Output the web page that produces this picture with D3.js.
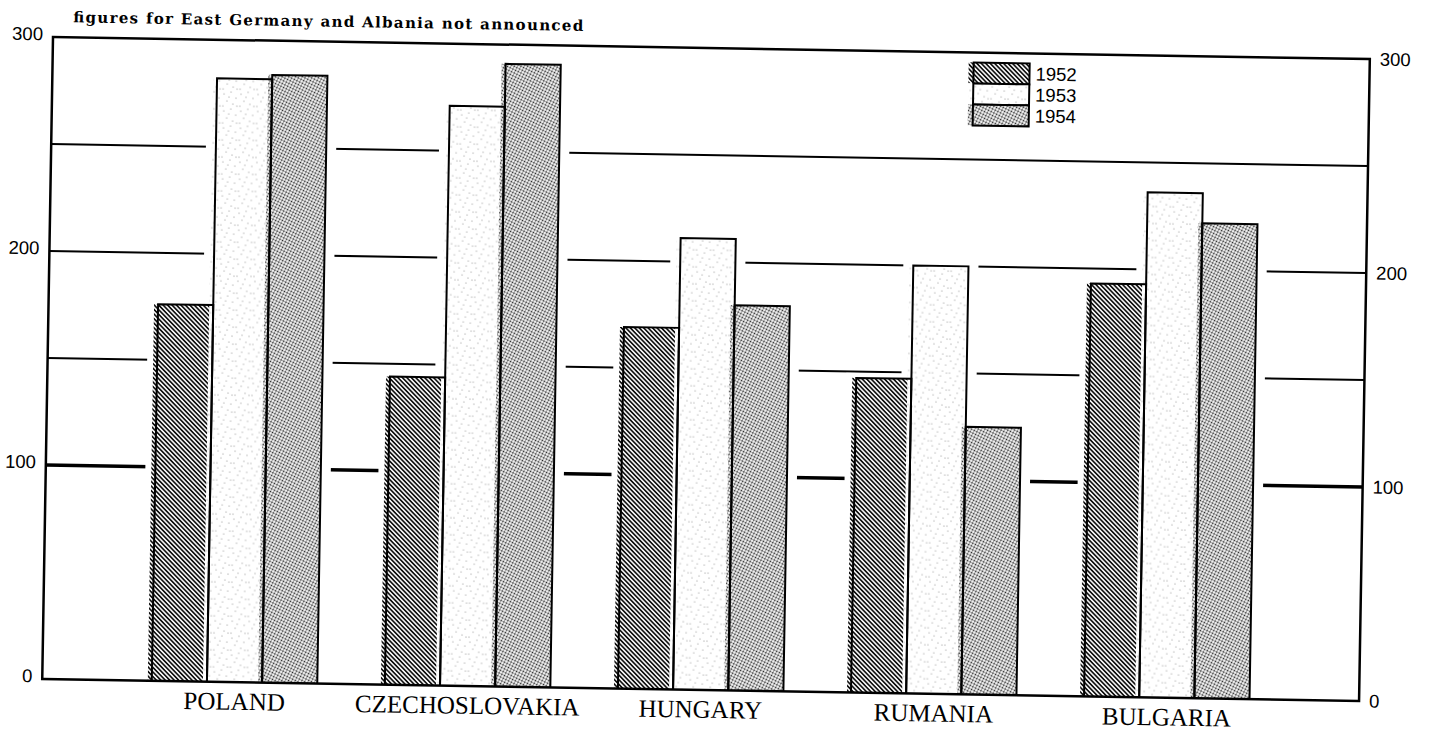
<!DOCTYPE html>
<html>
<head>
<meta charset="utf-8">
<script src="https://cdn.jsdelivr.net/npm/d3@7"></script>
<style>
  body { margin: 0; background: #fff; }
</style>
</head>
<body>
<div id="chart"></div>
<script>
// index numbers
var countries = ["POLAND", "CZECHOSLOVAKIA", "HUNGARY", "RUMANIA", "BULGARIA"];
var years = ["1952", "1953", "1954"];
var values1952 = [176, 144, 169, 147, 193];
var values1953 = [282, 271, 211, 200, 236];
var values1954 = [284, 291, 180, 125, 222];
var tickValues = [0, 100, 200, 300];
var gridValues = [100, 150, 200, 250];
var note = "figures for East Germany and Albania not announced";

var width = 1317, height = 642;

var svg = d3.select("#chart").append("svg")
    .attr("width", 1429)
    .attr("height", 731);

var defs = svg.append("defs");

// 1952: dense diagonal hatching
var hatch = defs.append("pattern")
    .attr("id", "hatch")
    .attr("patternUnits", "userSpaceOnUse")
    .attr("width", 3.2).attr("height", 3.2)
    .attr("patternTransform", "rotate(-45)");
hatch.append("rect").attr("width", 3.2).attr("height", 3.2).attr("fill", "#fff");
hatch.append("line")
    .attr("x1", 1.6).attr("y1", 0).attr("x2", 1.6).attr("y2", 3.2)
    .attr("stroke", "#111").attr("stroke-width", 1.7);

// 1953: almost white, a few specks
var speck = defs.append("pattern")
    .attr("id", "speck")
    .attr("patternUnits", "userSpaceOnUse")
    .attr("width", 17).attr("height", 17);
speck.append("rect").attr("width", 17).attr("height", 17).attr("fill", "#fff");
[[2, 3], [9, 1], [14, 7], [5, 10], [11, 13], [1, 15], [7, 6], [15, 15]].forEach(function(p) {
  speck.append("circle").attr("cx", p[0]).attr("cy", p[1]).attr("r", 0.6).attr("fill", "#888");
});

// 1954: stipple
var dots = defs.append("pattern")
    .attr("id", "dots")
    .attr("patternUnits", "userSpaceOnUse")
    .attr("width", 3).attr("height", 3)
    .attr("patternTransform", "rotate(25)");
dots.append("rect").attr("width", 3).attr("height", 3).attr("fill", "#fff");
dots.append("circle").attr("cx", 1.5).attr("cy", 1.5).attr("r", 1.0).attr("fill", "#222");

var fills = {"1952": "url(#hatch)", "1953": "url(#speck)", "1954": "url(#dots)"};

// the scan is tilted a little
var g = svg.append("g").attr("transform", "translate(53,37) rotate(0.96)");

var x0 = d3.scaleBand()
    .domain(countries)
    .range([0, width])
    .paddingInner(0.29)
    .paddingOuter(0.47);

var x1 = d3.scaleBand()
    .domain(years)
    .range([0, x0.bandwidth()]);

var y = d3.scaleLinear()
    .domain([0, 300])
    .range([height, 0]);

var bars = [];
countries.forEach(function(c, i) {
  bars.push({country: c, year: "1952", value: values1952[i]});
  bars.push({country: c, year: "1953", value: values1953[i]});
  bars.push({country: c, year: "1954", value: values1954[i]});
});
function bx(d) { return x0(d.country) + x1(d.year); }

// grid lines behind the bars
g.selectAll(".grid")
    .data(gridValues)
  .enter().append("line")
    .attr("class", "grid")
    .attr("x1", 0).attr("x2", width)
    .attr("y1", function(d) { return y(d); })
    .attr("y2", function(d) { return y(d); })
    .attr("stroke", "#000")
    .attr("stroke-width", function(d) { return d === 100 ? 3.5 : 2; });

// white gap round each bar
g.selectAll(".halo")
    .data(bars)
  .enter().append("rect")
    .attr("class", "halo")
    .attr("x", function(d) { return bx(d) - 10; })
    .attr("width", x1.bandwidth() + 20)
    .attr("y", function(d) { return y(d.value) - 5; })
    .attr("height", function(d) { return height - y(d.value) + 4; })
    .attr("fill", "#fff");

g.selectAll(".fill")
    .data(bars)
  .enter().append("rect")
    .attr("class", "fill")
    .attr("x", function(d) { return bx(d) - 4; })
    .attr("width", x1.bandwidth() + 4)
    .attr("y", function(d) { return y(d.value); })
    .attr("height", function(d) { return height - y(d.value); })
    .attr("fill", function(d) { return fills[d.year]; });

g.selectAll(".outline")
    .data(bars)
  .enter().append("path")
    .attr("class", "outline")
    .attr("d", function(d) {
      var x = bx(d), w = x1.bandwidth();
      return "M" + x + "," + height + "V" + y(d.value) + "H" + (x + w) + "V" + height;
    })
    .attr("fill", "none")
    .attr("stroke", "#000")
    .attr("stroke-width", 2);

// frame
g.append("rect")
    .attr("width", width).attr("height", height)
    .attr("fill", "none")
    .attr("stroke", "#000")
    .attr("stroke-width", 2.5);

var left = g.append("g")
    .call(d3.axisLeft(y).tickValues(tickValues).tickSize(0).tickPadding(10));
left.select(".domain").remove();
left.selectAll("text").attr("y", -3);

var right = g.append("g")
    .attr("transform", "translate(" + width + ",0)")
    .call(d3.axisRight(y).tickValues(tickValues).tickSize(0).tickPadding(10));
right.select(".domain").remove();

g.selectAll(".tick text")
    .attr("font-family", "'Liberation Sans', Arial, sans-serif")
    .attr("font-size", 18.5)
    .attr("fill", "#000");

var bottom = g.append("g")
    .attr("transform", "translate(0," + height + ")")
    .call(d3.axisBottom(x0).tickSize(0).tickPadding(10));
bottom.select(".domain").remove();
bottom.selectAll("text")
    .attr("font-family", "'Liberation Serif', 'Times New Roman', serif")
    .attr("font-size", 25)
    .attr("fill", "#000");

// legend
var legend = g.append("g").attr("transform", "translate(921,10)");
var item = legend.selectAll("g")
    .data(years)
  .enter().append("g")
    .attr("transform", function(d, i) { return "translate(0," + i * 21 + ")"; });
item.append("rect")
    .attr("x", -5).attr("width", 61).attr("height", 21)
    .attr("fill", function(d) { return fills[d]; });
item.append("rect")
    .attr("width", 56).attr("height", 21)
    .attr("fill", "none")
    .attr("stroke", "#000")
    .attr("stroke-width", 2);
item.append("text")
    .attr("x", 62).attr("y", 10.5).attr("dy", "0.35em")
    .attr("font-family", "'Liberation Sans', Arial, sans-serif")
    .attr("font-size", 18.5)
    .text(function(d) { return d; });

g.append("text")
    .attr("x", 20).attr("y", -15)
    .attr("font-family", "'DejaVu Serif', serif")
    .attr("font-weight", "bold")
    .attr("font-size", 15)
    .attr("textLength", 510)
    .attr("lengthAdjust", "spacing")
    .text(note);
</script>
</body>
</html>
